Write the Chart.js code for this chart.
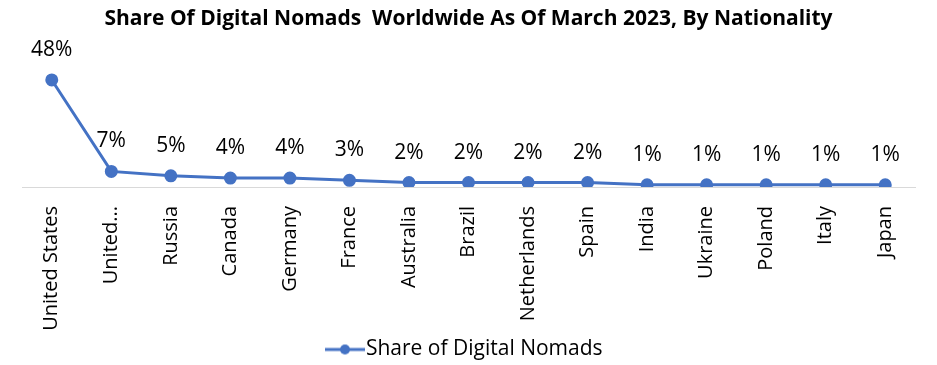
<!DOCTYPE html>
<html>
<head>
<meta charset="utf-8">
<script src="https://cdn.jsdelivr.net/npm/chart.js@4"></script>
<style>
	html, body { margin: 0; padding: 0; background: #fff; }
	#wrap { width: 937px; height: 365px; }
</style>
</head>
<body>
<div id="wrap"><canvas id="nomadChart" width="937" height="365"></canvas></div>
<script>
const countries = ['United States', 'United Kingdom', 'Russia', 'Canada', 'Germany', 'France', 'Australia',
                   'Brazil', 'Netherlands', 'Spain', 'India', 'Ukraine', 'Poland', 'Italy', 'Japan'];
const sharePct = [48, 7, 5, 4, 4, 3, 2, 2, 2, 2, 1, 1, 1, 1, 1];
const seriesName = 'Share of Digital Nomads';
const chartTitle = 'Share Of Digital Nomads  Worldwide As Of March 2023, By Nationality';

const lineBlue = '#4472c4';
const fontName = "'Open Sans', 'Noto Sans', sans-serif";

// little line-with-dot marker for the legend, like Excel draws it
function legendMarker() {
	const c = document.createElement('canvas');
	c.width = 40;
	c.height = 12;
	const ctx = c.getContext('2d');
	ctx.strokeStyle = lineBlue;
	ctx.lineWidth = 3;
	ctx.beginPath();
	ctx.moveTo(0, 6);
	ctx.lineTo(40, 6);
	ctx.stroke();
	ctx.fillStyle = lineBlue;
	ctx.beginPath();
	ctx.arc(20, 6, 5, 0, Math.PI * 2);
	ctx.fill();
	return c;
}

const valueLabels = {
	id: 'valueLabels',
	afterDatasetsDraw(chart) {
		const ctx = chart.ctx;
		const meta = chart.getDatasetMeta(0);
		ctx.save();
		ctx.font = '21px ' + fontName;
		ctx.fillStyle = '#000';
		ctx.textAlign = 'center';
		ctx.textBaseline = 'middle';
		meta.data.forEach((pt, i) => {
			ctx.fillText(Math.round(sharePct[i]) + '%', pt.x, pt.y - 30);
		});
		ctx.restore();
	}
};

const nomadCtx = document.getElementById('nomadChart').getContext('2d');
new Chart(nomadCtx, {
	type: 'line',
	data: {
		labels: countries,
		datasets: [{
			label: seriesName,
			data: sharePct,
			borderColor: lineBlue,
			backgroundColor: lineBlue,
			borderWidth: 3,
			pointRadius: 5,
			pointHoverRadius: 5,
			tension: 0,
			fill: false
		}]
	},
	options: {
		responsive: false,
		animation: false,
		layout: {
			padding: { left: 22, right: 22, top: 6, bottom: -5 }
		},
		scales: {
			x: {
				offset: true,
				grid: { display: false },
				border: { display: true, color: '#d9d9d9', width: 1 },
				ticks: {
					color: '#000',
					font: { family: fontName, size: 20 },
					minRotation: 90,
					maxRotation: 90,
					autoSkip: false,
					padding: 11,
					callback: function (val) {
						const name = this.getLabelForValue(val);
						return name === 'United Kingdom' ? 'United...' : name;
					}
				},
				// fixed axis height so the plot bottom lands where the original has it
				afterFit: function (scale) {
					scale.height = 152;
				}
			},
			y: {
				display: false,
				min: 0,
				max: 60
			}
		},
		plugins: {
			title: {
				display: true,
				text: chartTitle,
				color: '#000',
				font: { family: fontName, size: 21, weight: 'bold' },
				padding: { top: 0, bottom: 22 }
			},
			legend: {
				position: 'bottom',
				labels: {
					color: '#000',
					font: { family: fontName, size: 21 },
					usePointStyle: true,
					padding: 0,
					generateLabels: function (chart) {
						const items = Chart.defaults.plugins.legend.labels.generateLabels(chart);
						items.forEach(it => { it.pointStyle = legendMarker(); });
						return items;
					}
				}
			},
			tooltip: { enabled: false }
		}
	},
	plugins: [valueLabels]
});
</script>
</body>
</html>
